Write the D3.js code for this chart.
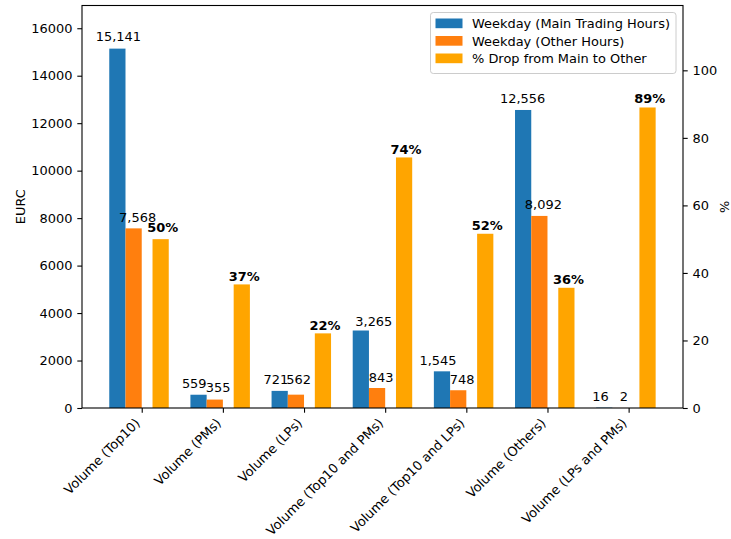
<!DOCTYPE html>
<html><head><meta charset="utf-8">
<script src="https://cdn.jsdelivr.net/npm/d3@7"></script>
<style>body{margin:0;background:#fff}text{font-family:"DejaVu Sans",sans-serif}</style>
</head><body><svg id="c" width="731" height="539"></svg>
<script>
const categories = ["Volume (Top10)","Volume (PMs)","Volume (LPs)","Volume (Top10 and PMs)","Volume (Top10 and LPs)","Volume (Others)","Volume (LPs and PMs)"];
const mainHours = [15141, 559, 721, 3265, 1545, 12556, 16];
const otherHours = [7568, 355, 562, 843, 748, 8092, 2];
const pctDrop = [50.0, 36.6, 22.1, 74.2, 51.6, 35.6, 89.0];
const leftTicks = [0,2000,4000,6000,8000,10000,12000,14000,16000];
const rightTicks = [0,20,40,60,80,100];
const seriesNames = ["Weekday (Main Trading Hours)","Weekday (Other Hours)","% Drop from Main to Other"];
const colors = ["#1f77b4","#ff7f0e","#ffa500"];
// label nudges (pixels) as in the reference, where labels were repelled from each other
const nudgeMain = [[1,-7.6],[-4.3,-6.4],[-3.8,-6.9],[13,-4.5],[-4,-6.7],[-0.5,-7.4],[-3.8,-7]];
const nudgeOther = [[4,-6.6],[3.3,-7.3],[2.7,-10.7],[4,-6.3],[4,-6.7],[4,-6.7],[3.4,-7]];
const nudgePct = [[2,-6.7],[2.5,-3.8],[2,-3.5],[2,-3.6],[2,-3.3],[2,-3.3],[2.3,-4]];

const L=82, R=683, T=5.5, B=408, FS=12.95;
const svg=d3.select("#c");
const x=d3.scaleLinear().domain([-0.736,6.67]).range([L,R]);
const yL=d3.scaleLinear().domain([0,16958]).range([B,T]);
const yR=d3.scaleLinear().domain([0,119.2]).range([B,T]);
const bw=x(0.2)-x(0);
const idx=d3.range(categories.length);
const fmt=d3.format(",");

function bars(vals, off, scale, color, labelFn, bold, nudge){
  const g=svg.append("g");
  g.selectAll("rect").data(idx).join("rect")
    .attr("x",i=>x(i+off)-bw/2).attr("width",bw)
    .attr("y",i=>scale(vals[i])).attr("height",i=>B-scale(vals[i]))
    .attr("fill",color);
  g.selectAll("text").data(idx).join("text")
    .attr("x",i=>x(i+off)+nudge[i][0]).attr("y",i=>scale(vals[i])+nudge[i][1])
    .attr("text-anchor","middle").attr("font-size",FS)
    .attr("font-weight",bold?"bold":"normal").attr("fill","#000")
    .text(i=>labelFn(vals[i]));
}
bars(mainHours,-0.3,yL,colors[0],v=>fmt(v),false,nudgeMain);
bars(otherHours,-0.1,yL,colors[1],v=>fmt(v),false,nudgeOther);
bars(pctDrop,0.233,yR,colors[2],v=>d3.format(".0f")(v)+"%",true,nudgePct);

// axes
const axL=svg.append("g").attr("transform",`translate(${L},0)`)
  .call(d3.axisLeft(yL).tickValues(leftTicks).tickFormat(d3.format("d")).tickSize(4.7).tickPadding(4.8));
const axR=svg.append("g").attr("transform",`translate(${R},0)`)
  .call(d3.axisRight(yR).tickValues(rightTicks).tickFormat(d3.format("d")).tickSize(4.7).tickPadding(4.8));
const axB=svg.append("g").attr("transform",`translate(0,${B})`)
  .call(d3.axisBottom(x).tickValues(idx).tickFormat("").tickSize(4.7));
[axL,axR,axB].forEach(a=>{
  a.select(".domain").remove();
  a.selectAll("line").attr("stroke","#000").attr("stroke-width",1.1);
  a.selectAll("text").attr("font-size",FS).attr("fill","#000").attr("font-family","DejaVu Sans");
});
// x tick labels
svg.append("g").selectAll("text").data(idx).join("text")
  .attr("transform",i=>`translate(${x(i)-1},${B+16}) rotate(-45)`)
  .attr("text-anchor","end").attr("font-size",FS).attr("fill","#000")
  .text(i=>categories[i]);
// frame
svg.append("rect").attr("x",L).attr("y",T).attr("width",R-L).attr("height",B-T)
  .attr("fill","none").attr("stroke","#000").attr("stroke-width",1.1);
// axis labels
svg.append("text").attr("transform",`translate(24.5,${(T+B)/2}) rotate(-90)`)
  .attr("text-anchor","middle").attr("font-size",FS).text("EURC");
svg.append("text").attr("transform",`translate(729,${(T+B)/2}) rotate(-90)`)
  .attr("text-anchor","middle").attr("font-size",FS).text("%");
// legend
const lg=svg.append("g");
lg.append("rect").attr("x",430.5).attr("y",12.5).attr("width",245.5).attr("height",61)
  .attr("rx",2.8).attr("fill","#fff").attr("fill-opacity",0.8).attr("stroke","#cccccc").attr("stroke-width",1);
seriesNames.forEach((s,i)=>{
  const cy=23.5+i*17.5;
  lg.append("rect").attr("x",435.5).attr("y",cy-5).attr("width",27).attr("height",9.7).attr("fill",colors[i]);
  lg.append("text").attr("x",472).attr("y",cy+4.6).attr("font-size",FS).attr("fill","#000").text(s);
});
</script></body></html>
